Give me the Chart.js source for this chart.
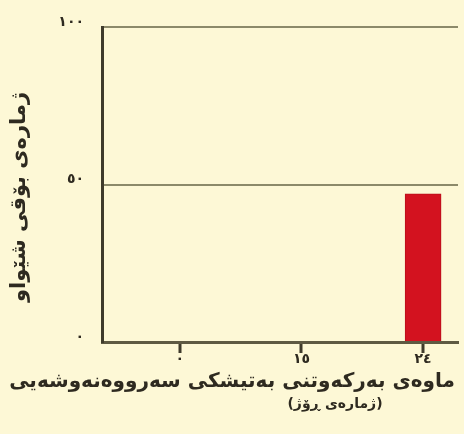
<!DOCTYPE html>
<html>
<head>
<meta charset="utf-8">
<script src="https://cdn.jsdelivr.net/npm/chart.js@4.4.0/dist/chart.umd.min.js"></script>
<style>
    html, body { margin: 0; padding: 0; background: #fdf8d6; }
    #wrap { width: 464px; height: 434px; }
</style>
</head>
<body>
<div id="wrap"><canvas id="frogChart" dir="rtl"></canvas></div>
<script>
// days of UV exposure (category labels) and number of deformed frogs
const dayLabels = ['٠', '١٥', '٢٤'];
const frogCounts = [null, null, 47];
const yTickLabels = { 0: '٠', 50: '٥٠', 100: '١٠٠' };

const yTitle = 'ژمارەی بۆقی شێواو';
const xTitleLines = ['ماوەی بەرکەوتنی بەتیشکی سەرووەنەوشەیی', '(ژمارەی ڕۆژ)'];

const FONT = 'DejaVu Sans';
const TEXT = '#2e2a20';

// axis titles drawn by hand so each line can sit where the original has it
const titlesPlugin = {
    id: 'axisTitles',
    afterDraw(chart) {
        const ctx = chart.ctx;
        const area = chart.chartArea;
        ctx.save();
        ctx.fillStyle = TEXT;
        ctx.textAlign = 'center';
        ctx.textBaseline = 'middle';
        ctx.font = 'bold 20px "' + FONT + '"';
        ctx.fillText(xTitleLines[0], 232, area.bottom + 40);
        ctx.font = 'bold 14px "' + FONT + '"';
        ctx.fillText(xTitleLines[1], 335, area.bottom + 62);

        ctx.translate(20, 197);
        ctx.rotate(-Math.PI / 2);
        ctx.font = 'bold 21px "' + FONT + '"';
        ctx.fillText(yTitle, 0, 0);
        ctx.restore();
    }
};

function createChart() {
    const ctx = document.getElementById('frogChart').getContext('2d');
    new Chart(ctx, {
        type: 'bar',
        data: {
            datasets: [{
                data: frogCounts.map((v, i) => ({ x: i, y: v })),
                backgroundColor: '#d3121f',
                borderColor: '#b80f1a',
                borderWidth: 1,
                barThickness: 36
            }]
        },
        options: {
            responsive: true,
            maintainAspectRatio: false,
            animation: false,
            layout: {
                padding: { top: 27, right: 6, left: 0, bottom: 0 }
            },
            plugins: {
                legend: { display: false },
                tooltip: { enabled: false }
            },
            scales: {
                x: {
                    type: 'linear',
                    offset: false,
                    min: -0.64,
                    max: 2.287,
                    afterBuildTicks: (scale) => {
                        scale.ticks = dayLabels.map((_, i) => ({ value: i }));
                    },
                    afterFit: (scale) => { scale.height = 92; },
                    ticks: {
                        callback: (value) => dayLabels[value],
                        color: TEXT,
                        font: { family: FONT, size: 14, weight: 'bold' },
                        padding: -2,
                        maxRotation: 0
                    },
                    grid: {
                        display: true,
                        offset: false,
                        drawOnChartArea: false,
                        drawTicks: true,
                        tickLength: 11,
                        color: '#3f3b2b',
                        lineWidth: 2,
                        tickColor: '#3f3b2b',
                        tickWidth: 3
                    },
                    border: { color: '#5e5a42', width: 3 }
                },
                y: {
                    min: 0,
                    max: 100,
                    afterBuildTicks: (scale) => {
                        scale.ticks = [0, 50, 100].map(v => ({ value: v }));
                    },
                    afterFit: (scale) => { scale.width = 102; },
                    ticks: {
                        callback: (value) => yTickLabels[value],
                        color: TEXT,
                        font: { family: FONT, size: 14, weight: 'bold' },
                        padding: 18,
                        labelOffset: -5
                    },
                    grid: {
                        drawTicks: false,
                        color: '#8c8a6a',
                        lineWidth: 2
                    },
                    border: { color: '#3f3b2b', width: 3 }
                }
            }
        },
        plugins: [titlesPlugin]
    });
}

window.onload = function() {
    createChart();
};
</script>
</body>
</html>
